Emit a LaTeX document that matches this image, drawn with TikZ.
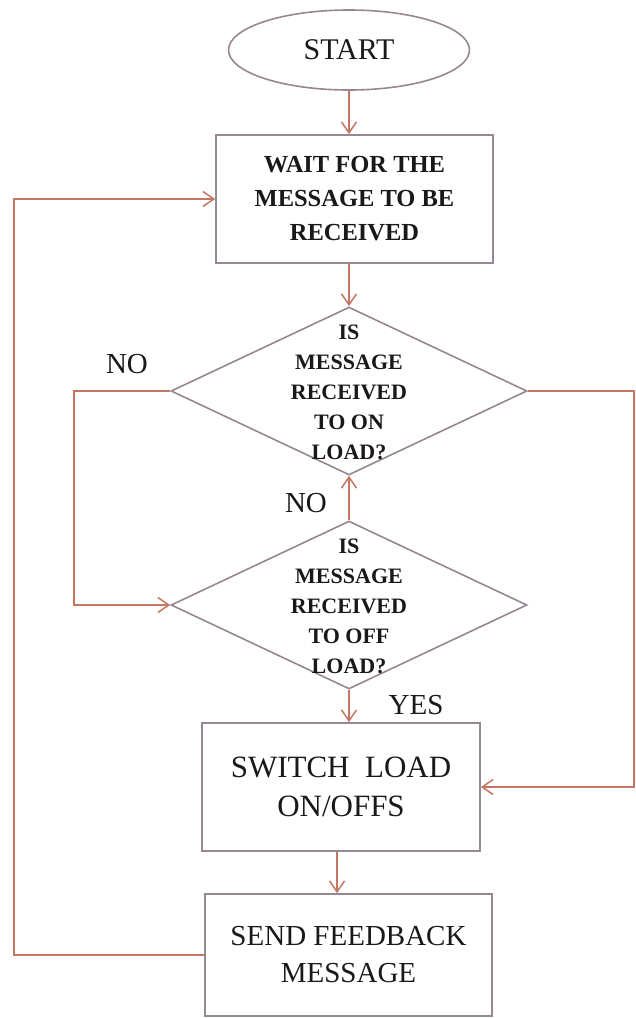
\documentclass[tikz,border=0pt]{standalone}
\usepackage{fontspec}
\setmainfont{Liberation Serif}
\usepackage{tikz}
\usetikzlibrary{
  arrows.meta,
  shapes.geometric,
  calc
}
\usepackage{xcolor}
\definecolor{linkclr}{RGB}{196, 118, 98}
\definecolor{edgeclr}{RGB}{150, 136, 146}
\definecolor{txtclr}{RGB}{25,  25,  25}
\tikzset{
  % Bloklar
  procbox/.style  = {draw=edgeclr, line width=1.6pt, fill=white, inner sep=0pt,
                     minimum width=277pt, minimum height=128pt, align=center, text=txtclr},
  termnode/.style = {ellipse, draw=edgeclr, line width=1.6pt, fill=white, inner sep=0pt,
                     minimum width=241pt, minimum height=80pt, text=txtclr},
  decnode/.style  = {diamond, draw=edgeclr, line width=1.6pt, fill=white, inner sep=0pt,
                     minimum width=356pt, minimum height=168pt},
  dectext/.style  = {align=center, text=txtclr, font=\fontsize{22}{30}\selectfont\bfseries},
  % Ulovchi chiziqlar
  flow/.style     = {draw=linkclr, line width=1.5pt, -{Straight Barb[length=11pt, width=15pt]}},
  % Etiketlar
  branchlab/.style= {text=txtclr, font=\fontsize{29}{29}\selectfont},
}

\begin{document}
\begin{tikzpicture}[x=1pt, y=-1pt]
  \useasboundingbox (0,0) rectangle (636,1018);
  % Bloklar
  \node[termnode, font=\fontsize{30}{30}\selectfont] (start) at (349,50) {START};
  \node[procbox, font=\fontsize{24.5}{34}\selectfont\bfseries] (wait) at (354.5,199)
    {WAIT FOR THE\\MESSAGE TO BE\\RECEIVED};
  \node[decnode] (ison) at (349,391) {};
  \node[dectext] (isontxt) at (349,392) {IS\\MESSAGE\\RECEIVED\\TO ON\\LOAD?};
  \node[decnode] (isoff) at (349,605) {};
  \node[dectext] (isofftxt) at (349,606) {IS\\MESSAGE\\RECEIVED\\TO OFF\\LOAD?};
  \node[procbox, minimum width=278pt, font=\fontsize{31}{39}\selectfont] (switch) at (341,787)
    {SWITCH\ \ LOAD\\ON/OFFS};
  \node[procbox, minimum width=287pt, minimum height=122pt,
        font=\fontsize{29}{37}\selectfont] (send) at (348.5,955)
    {SEND FEEDBACK\\MESSAGE};
  % Asosiy oqim
  \draw[flow] (start.south) -- (start.south |- wait.north);
  \draw[flow] (wait.south -| ison.north) -- (ison.north);
  \draw[flow] (isoff.north) -- (ison.south);
  \draw[flow] (isoff.south) -- (isoff.south |- switch.north);
  \draw[flow] ([xshift=-4pt]switch.south) -- ([xshift=-4pt]switch.south |- send.north);
  % Qaytish chiziqlari
  \coordinate (rightrail) at (634,0);
  \coordinate (leftrail) at (74,0);
  \coordinate (backrail) at (14,0);
  \draw[flow] (ison.east) -- (ison.east -| rightrail) |- (switch.east);
  \draw[flow] (ison.west) -- (ison.west -| leftrail) |- (isoff.west);
  \draw[flow] (send.west) -- (send.west -| backrail) |- (wait.west);
  % Etiketlar
  \node[branchlab] (nolbl) at (127,364) {NO};
  \node[branchlab] (nouplbl) at (306,503) {NO};
  \node[branchlab] (yeslbl) at (416,705) {YES};
\end{tikzpicture}
\end{document}
